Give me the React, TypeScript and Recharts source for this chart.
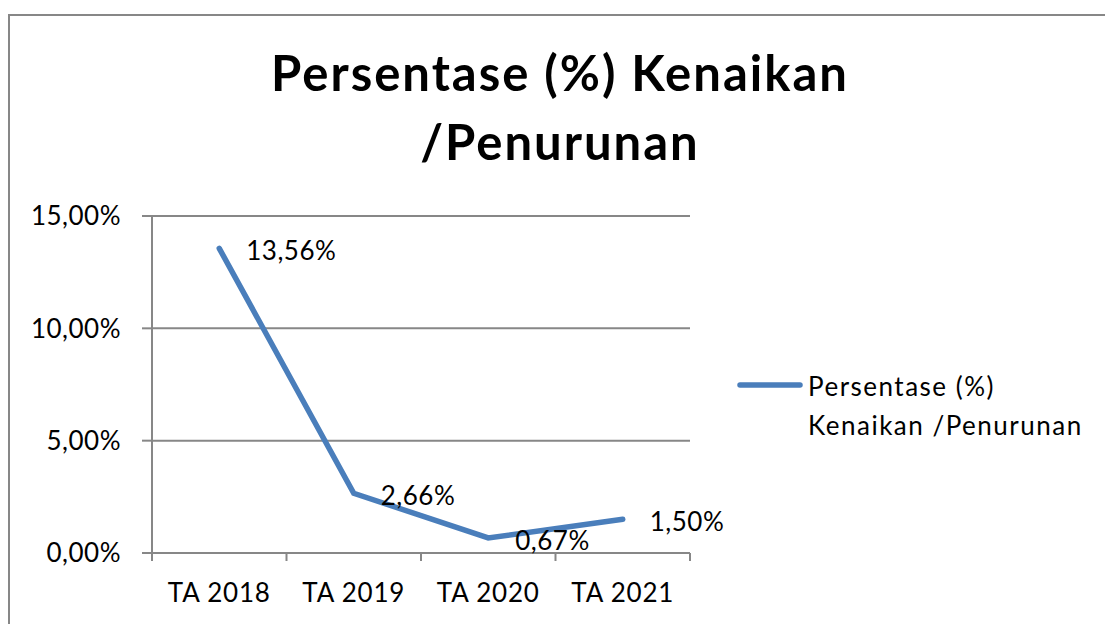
import React from "react";
import {
  LineChart,
  Line,
  XAxis,
  YAxis,
  CartesianGrid,
  LabelList,
} from "recharts";

const categories = ["TA 2018", "TA 2019", "TA 2020", "TA 2021"];
const percentValues = [13.56, 2.66, 0.67, 1.5];
const yTicks = [0, 5, 10, 15];
const titleLines = ["Persentase (%) Kenaikan", "/Penurunan"];
const legendLines = ["Persentase (%)", "Kenaikan /Penurunan"];

const data = categories.map((category, i) => ({
  category,
  value: percentValues[i],
}));

const FONT = "Lato, 'Noto Sans', sans-serif";
const LINE_COLOR = "#4A7EBB";
const AXIS_COLOR = "#878787";

const fmt = (v: number) => v.toFixed(2).replace(".", ",") + "%";

// half of one category band (plot width 538 / 4 categories / 2)
const HALF_BAND = 67.25;

const XTick = (props: any) => {
  const { x, y, payload, index } = props;
  return (
    <g>
      <line x1={x - HALF_BAND} x2={x - HALF_BAND} y1={y} y2={y + 8} stroke={AXIS_COLOR} strokeWidth={2} />
      {index === categories.length - 1 && (
        <line x1={x + HALF_BAND} x2={x + HALF_BAND} y1={y} y2={y + 8} stroke={AXIS_COLOR} strokeWidth={2} />
      )}
      <text x={x} y={y + 49} textAnchor="middle" fontSize={26} letterSpacing={0.8} fontFamily={FONT} fill="#000">
        {payload.value}
      </text>
    </g>
  );
};

const ValueLabel = (props: any) => {
  const { x, y, value } = props;
  return (
    <text x={x + 27} y={y + 2} dominantBaseline="central" fontSize={26} letterSpacing={0.5} fontFamily={FONT} fill="#000">
      {fmt(value)}
    </text>
  );
};

export default function App() {
  return (
    <div style={{ position: "absolute", left: 0, top: 0, width: 1105, height: 624, background: "#fff", overflow: "hidden" }}>
      {/* outer chart frame, only top/left visible */}
      <div
        style={{
          position: "absolute",
          left: 8,
          top: 14,
          width: 1200,
          height: 700,
          borderTop: `2px solid ${AXIS_COLOR}`,
          borderLeft: `2px solid ${AXIS_COLOR}`,
        }}
      />
      <LineChart
        width={1105}
        height={624}
        data={data}
        margin={{ top: 216, right: 415, bottom: 21, left: 12 }}
        style={{ position: "absolute", left: 0, top: 0 }}
      >
        <CartesianGrid vertical={false} stroke={AXIS_COLOR} strokeWidth={2} />
        <XAxis
          dataKey="category"
          scale="band"
          height={50}
          tickLine={false}
          tickSize={0}
          tickMargin={0}
          axisLine={{ stroke: AXIS_COLOR, strokeWidth: 2 }}
          tick={<XTick />}
          interval={0}
        />
        <YAxis
          width={140}
          domain={[0, 15]}
          ticks={yTicks}
          tickFormatter={fmt}
          tickSize={10}
          tickMargin={21}
          axisLine={{ stroke: AXIS_COLOR, strokeWidth: 2 }}
          tickLine={{ stroke: AXIS_COLOR, strokeWidth: 2 }}
          tick={{ fontSize: 26, fontFamily: FONT, fill: "#000", letterSpacing: 0.5 }}
        />
        <Line
          dataKey="value"
          stroke={LINE_COLOR}
          strokeWidth={5.5}
          strokeLinecap="round"
          dot={false}
          activeDot={false}
          isAnimationActive={false}
        >
          <LabelList dataKey="value" content={<ValueLabel />} />
        </Line>
      </LineChart>
      <svg width={1105} height={624} style={{ position: "absolute", left: 0, top: 0, pointerEvents: "none" }}>
        {titleLines.map((t, i) => (
          <text
            key={t}
            x={560}
            y={91 + i * 69}
            textAnchor="middle"
            fontSize={49}
            letterSpacing={2}
            fontWeight={700}
            fontFamily={FONT}
            fill="#000"
          >
            {t}
          </text>
        ))}
        <line x1={740} x2={800} y1={385} y2={385} stroke={LINE_COLOR} strokeWidth={5.5} strokeLinecap="round" />
        {legendLines.map((t, i) => (
          <text key={t} x={808} y={396 + i * 39} fontSize={26} letterSpacing={1.5} fontFamily={FONT} fill="#000">
            {t}
          </text>
        ))}
      </svg>
    </div>
  );
}
